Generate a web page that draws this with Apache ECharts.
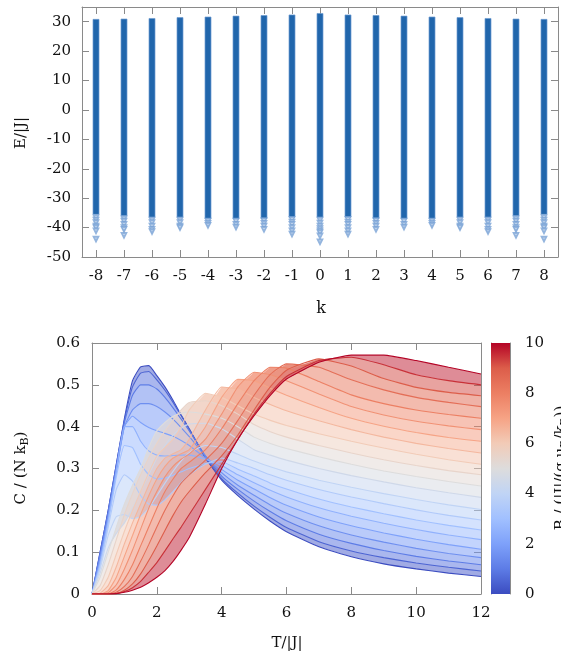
<!DOCTYPE html>
<html>
<head>
<meta charset="utf-8">
<script src="https://cdn.jsdelivr.net/npm/echarts@6/dist/echarts.min.js"></script>
<style>
  html, body { margin: 0; padding: 0; background: #fff; }
  #chart { width: 561px; height: 658px; }
</style>
</head>
<body>
<div id="chart"></div>
<script>
// ---------- spectrum E(k) ----------
const kValues = [-8, -7, -6, -5, -4, -3, -2, -1, 0, 1, 2, 3, 4, 5, 6, 7, 8];
const energyTicks = [-50, -40, -30, -20, -10, 0, 10, 20, 30];
// upper and lower edge of the dense block of levels in each momentum sector
const bandTop = [30.8, 30.9, 31.1, 31.4, 31.6, 31.9, 32.1, 32.3, 32.8, 32.3, 32.1, 31.9, 31.6, 31.4, 31.1, 30.9, 30.8];
const bandBottom = [-35.5, -36, -36.5, -36.5, -37, -37, -37, -36.5, -36.5, -36.5, -37, -37, -37, -36.5, -36.5, -36, -35.5];
// isolated low-lying levels below the block
const lowLevels = [
  [-36.6, -37.4, -38.3, -39.5, -40, -41.1, -43.9],
  [-37, -37.8, -38.9, -40, -40.6, -42.6],
  [-37.4, -38.3, -39.5, -40.6, -41.3],
  [-37.4, -38.3, -39.5, -40],
  [-37.8, -38.5, -39.2],
  [-37.8, -38.9, -39.8],
  [-37.6, -38.5, -39.5, -40.6],
  [-37.2, -38.1, -38.9, -40, -41.1, -42.2],
  [-37.4, -38.4, -39.5, -40.3, -41.1, -41.7, -42.8, -44.8],
  [-37.2, -38.1, -38.9, -40, -41.1, -42.2],
  [-37.6, -38.5, -39.5, -40.6],
  [-37.8, -38.9, -39.8],
  [-37.8, -38.5, -39.2],
  [-37.4, -38.3, -39.5, -40],
  [-37.4, -38.3, -39.5, -40.6, -41.3],
  [-37, -37.8, -38.9, -40, -40.6, -42.6],
  [-36.6, -37.4, -38.3, -39.5, -40, -41.1, -43.9]
];

// ---------- heat capacity C(T) for a set of fields B ----------
const temperatures = [0, 0.25, 0.5, 0.75, 1, 1.25, 1.5, 1.75, 2, 2.25, 2.5, 2.75, 3, 3.5, 4, 4.5, 5, 5.5, 6, 7, 8, 9, 10, 11, 12];
const fieldTicks = [0, 2, 4, 6, 8, 10];

const cB0_0 = [0, 0.1, 0.2, 0.31, 0.42, 0.51, 0.543, 0.546, 0.522, 0.495, 0.463, 0.428, 0.395, 0.325, 0.272, 0.235, 0.203, 0.174, 0.149, 0.113, 0.089, 0.072, 0.06, 0.05, 0.042];
const cB0_5 = [0, 0.1, 0.2, 0.31, 0.415, 0.495, 0.528, 0.532, 0.512, 0.487, 0.458, 0.426, 0.394, 0.327, 0.276, 0.241, 0.21, 0.183, 0.159, 0.125, 0.103, 0.087, 0.074, 0.064, 0.055];
const cB1_0 = [0, 0.095, 0.195, 0.305, 0.41, 0.475, 0.5, 0.5, 0.49, 0.47, 0.445, 0.418, 0.39, 0.33, 0.282, 0.25, 0.222, 0.197, 0.175, 0.143, 0.121, 0.104, 0.09, 0.079, 0.07];
const cB1_5 = [0, 0.09, 0.19, 0.3, 0.4, 0.44, 0.455, 0.455, 0.448, 0.435, 0.418, 0.398, 0.376, 0.33, 0.29, 0.26, 0.236, 0.213, 0.193, 0.163, 0.141, 0.124, 0.109, 0.097, 0.087];
const cB2_0 = [0, 0.08, 0.18, 0.29, 0.4, 0.425, 0.41, 0.398, 0.39, 0.384, 0.377, 0.367, 0.355, 0.325, 0.298, 0.272, 0.251, 0.23, 0.212, 0.184, 0.163, 0.146, 0.131, 0.118, 0.107];
const cB2_5 = [0, 0.075, 0.175, 0.295, 0.4, 0.4, 0.365, 0.342, 0.332, 0.33, 0.331, 0.332, 0.332, 0.322, 0.307, 0.285, 0.266, 0.248, 0.232, 0.206, 0.186, 0.169, 0.154, 0.141, 0.13];
const cB3_0 = [0, 0.07, 0.17, 0.28, 0.355, 0.35, 0.31, 0.285, 0.275, 0.277, 0.284, 0.292, 0.3, 0.312, 0.316, 0.298, 0.282, 0.265, 0.251, 0.227, 0.208, 0.192, 0.177, 0.164, 0.153];
const cB3_5 = [0, 0.065, 0.16, 0.25, 0.285, 0.27, 0.235, 0.215, 0.212, 0.225, 0.245, 0.266, 0.285, 0.31, 0.325, 0.313, 0.3, 0.285, 0.272, 0.25, 0.232, 0.216, 0.201, 0.188, 0.177];
const cB4_0 = [0, 0.06, 0.14, 0.185, 0.19, 0.18, 0.185, 0.205, 0.235, 0.265, 0.293, 0.318, 0.338, 0.355, 0.35, 0.334, 0.318, 0.304, 0.292, 0.272, 0.255, 0.24, 0.226, 0.213, 0.202];
const cB4_5 = [0, 0.05, 0.11, 0.145, 0.17, 0.205, 0.245, 0.285, 0.325, 0.355, 0.38, 0.396, 0.406, 0.408, 0.395, 0.37, 0.345, 0.332, 0.32, 0.3, 0.283, 0.268, 0.254, 0.242, 0.231];
const cB5_0 = [0, 0.04, 0.1, 0.16, 0.215, 0.26, 0.3, 0.35, 0.39, 0.41, 0.425, 0.432, 0.435, 0.43, 0.42, 0.4, 0.375, 0.36, 0.348, 0.328, 0.31, 0.294, 0.281, 0.269, 0.258];
const cB5_5 = [0, 0.02, 0.07, 0.13, 0.19, 0.24, 0.285, 0.325, 0.36, 0.39, 0.415, 0.44, 0.458, 0.462, 0.45, 0.43, 0.405, 0.388, 0.375, 0.355, 0.337, 0.321, 0.307, 0.295, 0.285];
const cB6_0 = [0, 0.008, 0.04, 0.095, 0.15, 0.2, 0.245, 0.29, 0.33, 0.35, 0.37, 0.4, 0.44, 0.48, 0.47, 0.45, 0.43, 0.415, 0.403, 0.383, 0.365, 0.349, 0.334, 0.321, 0.31];
const cB6_5 = [0, 0.002, 0.02, 0.065, 0.12, 0.17, 0.215, 0.26, 0.3, 0.325, 0.335, 0.345, 0.37, 0.44, 0.495, 0.49, 0.47, 0.453, 0.438, 0.414, 0.393, 0.375, 0.36, 0.348, 0.337];
const cB7_0 = [0, 0, 0.008, 0.04, 0.09, 0.14, 0.19, 0.235, 0.275, 0.305, 0.325, 0.335, 0.345, 0.4, 0.47, 0.513, 0.51, 0.492, 0.475, 0.446, 0.42, 0.401, 0.386, 0.374, 0.365];
const cB7_5 = [0, 0, 0.003, 0.022, 0.06, 0.105, 0.155, 0.205, 0.245, 0.28, 0.305, 0.322, 0.335, 0.37, 0.43, 0.495, 0.53, 0.524, 0.51, 0.478, 0.448, 0.428, 0.413, 0.402, 0.393];
const cB8_0 = [0, 0, 0, 0.01, 0.035, 0.07, 0.115, 0.16, 0.205, 0.245, 0.275, 0.3, 0.315, 0.345, 0.395, 0.455, 0.51, 0.542, 0.54, 0.508, 0.476, 0.455, 0.44, 0.429, 0.42];
const cB8_5 = [0, 0, 0, 0.004, 0.018, 0.042, 0.078, 0.118, 0.16, 0.2, 0.235, 0.265, 0.285, 0.32, 0.36, 0.415, 0.475, 0.525, 0.55, 0.542, 0.512, 0.488, 0.47, 0.458, 0.448];
const cB9_0 = [0, 0, 0, 0.001, 0.009, 0.024, 0.048, 0.08, 0.115, 0.152, 0.188, 0.22, 0.245, 0.29, 0.33, 0.38, 0.44, 0.495, 0.535, 0.562, 0.545, 0.515, 0.494, 0.482, 0.474];
const cB9_5 = [0, 0, 0, 0.001, 0.006, 0.015, 0.03, 0.052, 0.075, 0.103, 0.132, 0.16, 0.19, 0.25, 0.31, 0.37, 0.43, 0.48, 0.52, 0.558, 0.566, 0.548, 0.524, 0.51, 0.5];
const cB10_0 = [0, 0, 0, 0.001, 0.004, 0.009, 0.016, 0.027, 0.04, 0.056, 0.078, 0.105, 0.135, 0.215, 0.3, 0.37, 0.426, 0.475, 0.514, 0.554, 0.571, 0.571, 0.558, 0.542, 0.526];

const fieldCurves = [
  [0, cB0_0], [0.5, cB0_5], [1, cB1_0], [1.5, cB1_5], [2, cB2_0], [2.5, cB2_5],
  [3, cB3_0], [3.5, cB3_5], [4, cB4_0], [4.5, cB4_5], [5, cB5_0], [5.5, cB5_5],
  [6, cB6_0], [6.5, cB6_5], [7, cB7_0], [7.5, cB7_5], [8, cB8_0], [8.5, cB8_5],
  [9, cB9_0], [9.5, cB9_5], [10, cB10_0]
];
const fieldMax = 10;

// diverging blue-white-red palette
const coolwarmStops = ['#3b4cc0', '#5d7ce6', '#7ea1fa', '#a1c0ff', '#c0d4f5', '#dddcdc',
                       '#f2cbb7', '#f6a385', '#ec7f63', '#dc5d4a', '#b40426'];
function hexToRgb(h) {
  return [parseInt(h.slice(1, 3), 16), parseInt(h.slice(3, 5), 16), parseInt(h.slice(5, 7), 16)];
}
function coolwarmRgb(t) {
  const n = coolwarmStops.length - 1;
  const f = Math.min(Math.max(t, 0), 1) * n;
  const i = Math.min(Math.floor(f), n - 1);
  const u = f - i;
  const a = hexToRgb(coolwarmStops[i]), b = hexToRgb(coolwarmStops[i + 1]);
  return a.map((v, j) => Math.round(v + (b[j] - v) * u));
}
function coolwarm(t, alpha) {
  const c = coolwarmRgb(t);
  return alpha === undefined ? 'rgb(' + c.join(',') + ')' : 'rgba(' + c.join(',') + ',' + alpha + ')';
}

const FONT = 'DejaVu Serif';
const FRAME = '#8a8a8a';
const LABEL_COLOR = '#111';

function frameAxis(extra) {
  return Object.assign({
    axisLine: { show: true, onZero: false, lineStyle: { color: FRAME, width: 1 } },
    axisTick: { show: true, inside: true, length: 7, lineStyle: { color: FRAME } },
    axisLabel: { show: false },
    splitLine: { show: false }
  }, extra);
}
const labelStyle = { show: true, color: LABEL_COLOR, fontFamily: FONT, fontSize: 15 };

const chart = echarts.init(document.getElementById('chart'), null, { renderer: 'canvas' });

const series = [];

// dense blocks of levels, one per momentum sector
series.push({
  type: 'custom',
  xAxisIndex: 0, yAxisIndex: 0,
  silent: true,
  data: kValues.map((k, i) => [k, bandBottom[i], bandTop[i]]),
  encode: { x: 0, y: [1, 2] },
  renderItem: function (params, api) {
    const top = api.coord([api.value(0), api.value(2)]);
    const bot = api.coord([api.value(0), api.value(1)]);
    return {
      type: 'rect',
      shape: { x: top[0] - 3, y: top[1], width: 6, height: bot[1] - top[1] },
      style: { fill: '#2166ac', stroke: 'rgba(110,155,210,0.7)', lineWidth: 1 }
    };
  },
  z: 3
});

// individual low-lying levels
const lowPoints = [];
lowLevels.forEach((levels, i) => levels.forEach(e => lowPoints.push([kValues[i], e])));
series.push({
  type: 'scatter',
  xAxisIndex: 0, yAxisIndex: 0,
  silent: true,
  data: lowPoints,
  symbol: 'emptyTriangle',
  symbolRotate: 180,
  symbolSize: 4.5,
  itemStyle: { color: '#79a3d6', borderWidth: 0.7 },
  z: 4
});

// translucent shading between neighbouring field curves
for (let j = 0; j < fieldCurves.length - 1; j++) {
  const lower = fieldCurves[j], upper = fieldCurves[j + 1];
  series.push({
    type: 'custom',
    xAxisIndex: 2, yAxisIndex: 2,
    silent: true,
    clip: true,
    data: [[0]],
    renderItem: function (params, api) {
      const pts = [];
      temperatures.forEach((t, i) => pts.push(api.coord([t, lower[1][i]])));
      for (let i = temperatures.length - 1; i >= 0; i--) pts.push(api.coord([temperatures[i], upper[1][i]]));
      return {
        type: 'polygon',
        shape: { points: pts },
        style: { fill: coolwarm((lower[0] + upper[0]) / 2 / fieldMax, 0.5), stroke: null }
      };
    },
    z: 2
  });
}

// heat capacity curves, one per field value
fieldCurves.forEach(([b, values]) => {
  series.push({
    type: 'line',
    xAxisIndex: 2, yAxisIndex: 2,
    silent: true,
    data: temperatures.map((t, i) => [t, values[i]]),
    showSymbol: false,
    smooth: 0.15,
    clip: true,
    lineStyle: { width: 1.1, color: coolwarm(b / fieldMax) },
    z: 3
  });
});

// colour scale for B
series.push({
  type: 'bar',
  xAxisIndex: 4, yAxisIndex: 4,
  silent: true,
  data: [fieldMax],
  barWidth: '100%',
  itemStyle: {
    color: {
      type: 'linear', x: 0, y: 1, x2: 0, y2: 0,
      colorStops: coolwarmStops.map((c, i) => ({ offset: i / (coolwarmStops.length - 1), color: c }))
    }
  },
  z: 2
});

const option = {
  animation: false,
  backgroundColor: '#fff',
  grid: [
    { left: 82, top: 7, width: 476, height: 250 },
    { left: 92, top: 343, width: 389, height: 251 },
    { left: 491, top: 343, width: 19, height: 251 }
  ],
  xAxis: [
    frameAxis({ type: 'value', gridIndex: 0, position: 'bottom', min: -8.5, max: 8.5,
      axisTick: { show: true, inside: true, length: 7, customValues: kValues, lineStyle: { color: FRAME } },
      axisLabel: Object.assign({}, labelStyle, { customValues: kValues, margin: 12 }) }),
    frameAxis({ type: 'value', gridIndex: 0, position: 'top', min: -8.5, max: 8.5,
      axisTick: { show: true, inside: true, length: 7, customValues: kValues, lineStyle: { color: FRAME } } }),
    frameAxis({ type: 'value', gridIndex: 1, position: 'bottom', min: 0, max: 12, interval: 2,
      axisLabel: Object.assign({}, labelStyle, { margin: 12 }) }),
    frameAxis({ type: 'value', gridIndex: 1, position: 'top', min: 0, max: 12, interval: 2 }),
    { type: 'category', gridIndex: 2, data: ['B'], show: false }
  ],
  yAxis: [
    frameAxis({ type: 'value', gridIndex: 0, position: 'left', min: -50, max: 35,
      axisTick: { show: true, inside: true, length: 7, customValues: energyTicks, lineStyle: { color: FRAME } },
      axisLabel: Object.assign({}, labelStyle, { customValues: energyTicks, margin: 11 }) }),
    frameAxis({ type: 'value', gridIndex: 0, position: 'right', min: -50, max: 35,
      axisTick: { show: true, inside: true, length: 7, customValues: energyTicks, lineStyle: { color: FRAME } } }),
    frameAxis({ type: 'value', gridIndex: 1, position: 'left', min: 0, max: 0.6, interval: 0.1,
      axisLabel: Object.assign({}, labelStyle, { margin: 12,
        formatter: v => (Math.abs(v) < 1e-9 ? '0' : String(+v.toFixed(1))) }) }),
    frameAxis({ type: 'value', gridIndex: 1, position: 'right', min: 0, max: 0.6, interval: 0.1 }),
    frameAxis({ type: 'value', gridIndex: 2, position: 'right', min: 0, max: fieldMax, interval: 2,
      axisTick: { show: true, inside: true, length: 6,
        customValues: fieldTicks.slice(1, -1), lineStyle: { color: FRAME, type: 'dashed' } },
      axisLabel: Object.assign({}, labelStyle, { customValues: fieldTicks, margin: 15 }) }),
    frameAxis({ type: 'value', gridIndex: 2, position: 'left', min: 0, max: fieldMax, interval: 2,
      axisTick: { show: true, inside: true, length: 6,
        customValues: fieldTicks.slice(1, -1), lineStyle: { color: FRAME, type: 'dashed' } } })
  ],
  series: series,
  graphic: [
    { type: 'text', x: 21, y: 133, rotation: Math.PI / 2, silent: true,
      style: { text: 'E/|J|', fontFamily: FONT, fontSize: 15, fill: LABEL_COLOR,
        align: 'center', verticalAlign: 'middle' } },
    { type: 'text', x: 321, y: 309, silent: true,
      style: { text: 'k', fontFamily: FONT, fontSize: 16, fill: LABEL_COLOR,
        align: 'center', verticalAlign: 'middle' } },
    { type: 'text', x: 21, y: 468, rotation: Math.PI / 2, silent: true,
      style: { text: '{m|C / (N k}{s|B}{m|)}', fill: LABEL_COLOR, align: 'center', verticalAlign: 'middle',
        rich: {
          m: { fontFamily: FONT, fontSize: 15, lineHeight: 20, fill: LABEL_COLOR, verticalAlign: 'middle' },
          s: { fontFamily: FONT, fontSize: 11, lineHeight: 11, fill: LABEL_COLOR, verticalAlign: 'bottom' }
        } } },
    { type: 'text', x: 287, y: 643, silent: true,
      style: { text: 'T/|J|', fontFamily: FONT, fontSize: 15, fill: LABEL_COLOR,
        align: 'center', verticalAlign: 'middle' } },
    { type: 'text', x: 561, y: 468, rotation: Math.PI / 2, silent: true,
      style: { text: '{m|B / (|J|/(g μ}{s|B}{m|/k}{s|B}{m|))}', fill: LABEL_COLOR, align: 'center', verticalAlign: 'middle',
        rich: {
          m: { fontFamily: FONT, fontSize: 15, lineHeight: 20, fill: LABEL_COLOR, verticalAlign: 'middle' },
          s: { fontFamily: FONT, fontSize: 11, lineHeight: 11, fill: LABEL_COLOR, verticalAlign: 'bottom' }
        } } }
  ]
};

chart.setOption(option);
</script>
</body>
</html>
